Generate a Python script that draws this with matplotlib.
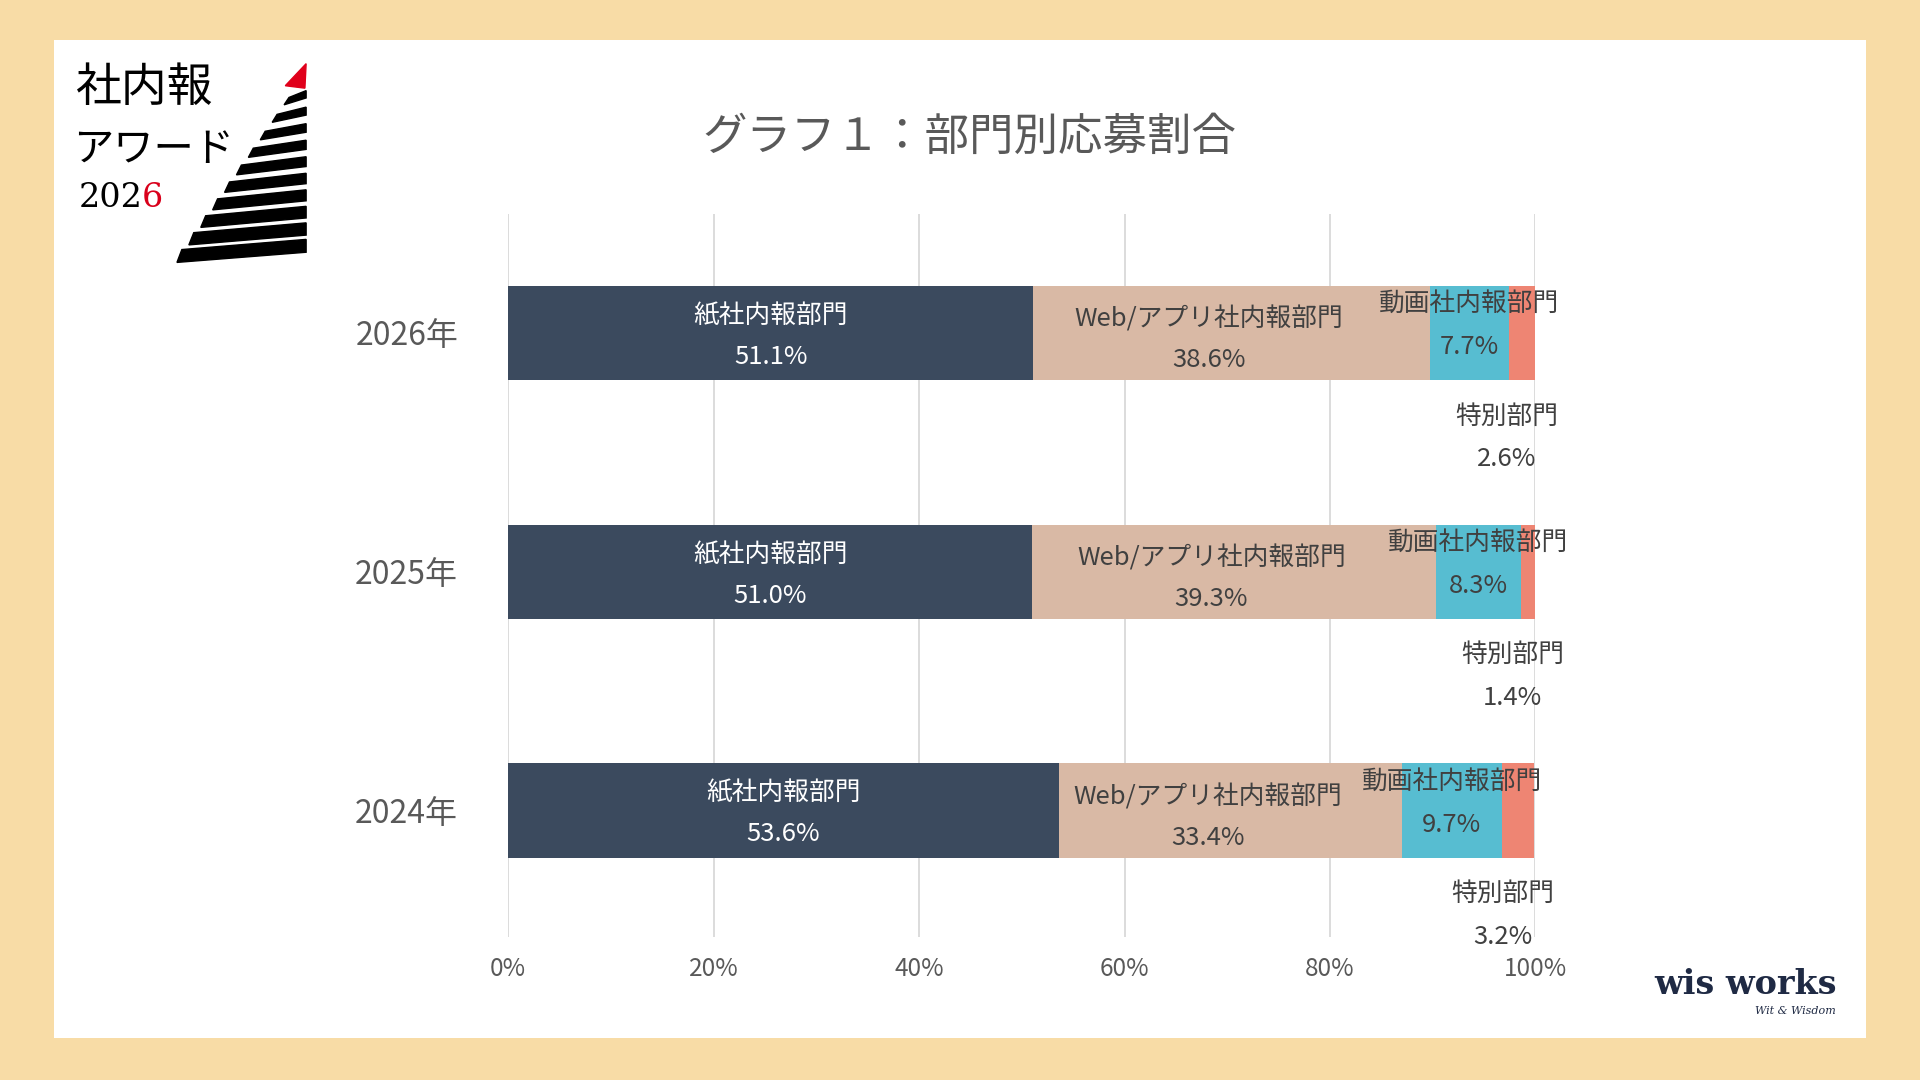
import matplotlib
matplotlib.use("Agg")
import matplotlib.pyplot as plt
import numpy as np
from matplotlib.patches import Rectangle, Polygon

plt.rcParams['font.family'] = ['Noto Sans CJK JP', 'DejaVu Sans']

years = ["2024年", "2025年", "2026年"]
categories = ["紙社内報部門", "Web/アプリ社内報部門", "動画社内報部門", "特別部門"]
paper = [53.6, 51.0, 51.1]
web = [33.4, 39.3, 38.6]
video = [9.7, 8.3, 7.7]
special = [3.2, 1.4, 2.6]
colors = ["#3B4A5E", "#D9B9A5", "#57BDD1", "#EE8573"]
xticks = [0, 20, 40, 60, 80, 100]

W, H = 1568.0, 882.0  # reference layout units

fig = plt.figure(figsize=(19.2, 10.8), dpi=100)
fig.patch.set_facecolor("#F8DCA6")
fig.add_artist(Rectangle((0.028, 0.039), 0.944, 0.924, transform=fig.transFigure,
                         facecolor="white", edgecolor="none", zorder=0))

ax = fig.add_axes([0.2647, 0.1327, 0.535, 0.669])
ax.set_facecolor("none")
series = [paper, web, video, special]
y = np.arange(len(years))
left = np.zeros(len(years))
for vals, c in zip(series, colors):
    ax.barh(y, vals, left=left, height=0.395, color=c, zorder=3)
    left += np.array(vals)

fs = 18.5
tc = "#404040"
for i in range(len(years)):
    p, w, v, s = paper[i], web[i], video[i], special[i]
    ax.text(p / 2, y[i] + 0.07, categories[0], ha="center", va="center", color="white", fontsize=fs, zorder=4)
    ax.text(p / 2, y[i] - 0.1, f"{p:.1f}%", ha="center", va="center", color="white", fontsize=fs, zorder=4)
    ax.text(p + w / 2 - 2.2, y[i] + 0.055, categories[1], ha="center", va="center", color=tc, fontsize=fs, zorder=4)
    ax.text(p + w / 2 - 2.2, y[i] - 0.115, f"{w:.1f}%", ha="center", va="center", color=tc, fontsize=fs, zorder=4)
    xv = p + w + v / 2
    ax.text(xv, y[i] + 0.12, categories[2], ha="center", va="center", color=tc, fontsize=fs, zorder=4)
    ax.text(xv, y[i] - 0.06, f"{v:.1f}%", ha="center", va="center", color=tc, fontsize=fs, zorder=4)
    xs = p + w + v + s / 2 - 1.5
    ax.text(xs, y[i] - 0.35, categories[3], ha="center", va="center", color=tc, fontsize=fs, zorder=4)
    ax.text(xs, y[i] - 0.53, f"{s:.1f}%", ha="center", va="center", color=tc, fontsize=fs, zorder=4)

ax.set_xlim(0, 100)
ax.set_ylim(-0.528, 2.497)
ax.set_xticks(xticks)
ax.set_xticklabels([f"{t}%" for t in xticks], fontsize=17.5, color="#595959")
ax.set_yticks(y)
ax.set_yticklabels(years, fontsize=23, color="#595959")
ax.tick_params(length=0, pad=14)
ax.tick_params(axis="y", pad=36)
ax.grid(axis="x", color="#D9D9D9", linewidth=1.3, zorder=0)
for sp in ax.spines.values():
    sp.set_visible(False)

fig.text(0.505, 0.873, "グラフ１：部門別応募割合", ha="center", va="center", fontsize=32, color="#595959")

# Logo
def fx(px): return px / W
def fy(py): return 1 - py / H
fig.text(fx(62), fy(72), "社内報", fontsize=33, color="black", va="center")
fig.text(fx(60), fy(122), "アワード", fontsize=29, color="black", va="center")
t202 = fig.text(fx(64), fy(162), "202", fontsize=24, color="black", va="center", family="DejaVu Serif")
fig.canvas.draw()
bb = t202.get_window_extent()
fig.text(bb.x1 / fig.bbox.width, fy(162), "6", fontsize=24, color="#D9001B", va="center", family="DejaVu Serif")
lax = fig.add_axes([0, 0, 1, 1])
lax.set_xlim(0, W); lax.set_ylim(H, 0); lax.axis("off")
lax.add_patch(Polygon([[233, 70], [250, 52], [249, 72]], color="#E0001B"))
n = 10
for k in range(n):
    yt = 76 + k * 13.5
    th = 6 + k * 0.5
    xl = 236 - (yt - 76) * 0.72
    lax.add_patch(Polygon([[xl, yt + th * 0.6], [250, yt - 2], [250, yt - 2 + th],
                           [xl - 4, yt + th * 1.6]], color="black"))

# wis works logo
fig.text(0.909, 0.088, "wis works", fontsize=24, fontweight="bold", color="#1F2A44", ha="center", va="center", family="DejaVu Serif")
fig.text(0.935, 0.064, "Wit & Wisdom", fontsize=8, style="italic", color="#1F2A44", ha="center", va="center", family="DejaVu Serif")

fig.savefig("out.png", dpi=100, facecolor=fig.get_facecolor())
